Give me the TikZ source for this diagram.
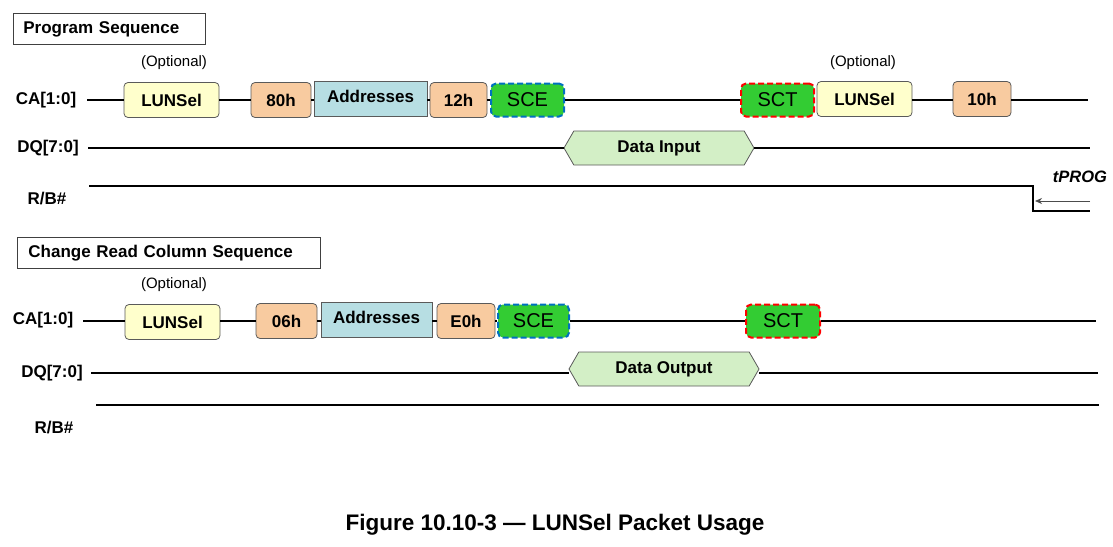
\documentclass[tikz,border=0pt]{standalone}
\usepackage{fontspec}
\setmainfont{Liberation Sans}
\usetikzlibrary{shapes.symbols,arrows.meta}
\definecolor{lunfill}{HTML}{FFFFCC}
\definecolor{cmdfill}{HTML}{F8CBA0}
\definecolor{addrfill}{HTML}{B7DEE3}
\definecolor{scefill}{HTML}{33CC33}
\definecolor{sceblue}{HTML}{0070C0}
\definecolor{sctred}{HTML}{FF0000}
\definecolor{datafill}{HTML}{D3EFC6}
\definecolor{boxline}{HTML}{5A5A5A}
\begin{document}
\begin{tikzpicture}[x=1pt,y=-1pt,
  wire/.style={line width=1.4pt},
  siglabel/.style={font=\bfseries\fontsize{17}{20}\selectfont},
  optlabel/.style={font=\fontsize{15}{17}\selectfont},
  titlebox/.style={draw=black!75, line width=0.8pt, anchor=north west, align=left, minimum height=31pt, inner ysep=0pt, font=\bfseries\fontsize{17}{20}\selectfont},
  box/.style={draw=boxline, line width=0.8pt, rounded corners=4pt, minimum height=35pt, inner sep=0pt, font=\bfseries\fontsize{17}{20}\selectfont},
  lunbox/.style={box, fill=lunfill},
  cmdbox/.style={box, fill=cmdfill},
  addrbox/.style={box, rounded corners=0pt, fill=addrfill},
  seqbox/.style={fill=scefill, line width=2pt, dash pattern=on 6pt off 3pt, rounded corners=5pt, minimum height=33pt, inner sep=0pt, font=\fontsize{20}{22}\selectfont},
  scebox/.style={seqbox, draw=sceblue},
  sctbox/.style={seqbox, draw=sctred},
  databox/.style={signal, signal to=east and west, signal pointer angle=120, draw=boxline, line width=0.8pt, fill=datafill, minimum height=34pt, inner sep=0pt, font=\bfseries\fontsize{17}{20}\selectfont},
]
\useasboundingbox (0,0) rectangle (1113,546);

% ---------- Program Sequence ----------
\node[titlebox, text width=171.5pt, inner xsep=10.5pt] (t1) at (12.5,13) {Program Sequence};

\node[siglabel] (ca1) at (46,100) {CA[1:0]};
\node[siglabel] (dq1) at (48,148) {DQ[7:0]};
\node[siglabel] (rb1) at (47,199) {R/B\#};

\coordinate (ca1s) at (87,100);
\coordinate (ca1e) at (1088,100);
\node[lunbox, minimum width=95pt] (lun1) at (171.5,100) {LUNSel};
\node[cmdbox, minimum width=60pt] (c80) at (281,100) {80h};
\node[addrbox, minimum width=113pt] (addr1) at (370.5,99) {Addresses\rule[-6pt]{0pt}{1pt}};
\node[cmdbox, minimum width=57pt] (c12) at (458.5,100) {12h};
\node[scebox, minimum width=73pt] (sce1) at (527.5,100) {SCE};
\node[sctbox, minimum width=73pt] (sct1) at (777.5,100) {SCT};
\node[lunbox, minimum width=95pt] (lun2) at (864.5,99) {LUNSel};
\node[cmdbox, minimum width=58pt] (c10) at (982,99) {10h};
\node[optlabel] (opt1) at (174,63) {(Optional)};
\node[optlabel] (opt2) at (863,63) {(Optional)};

\draw[wire] (ca1s) -- (lun1.west |- ca1s);
\draw[wire] (lun1.east |- ca1s) -- (c80.west |- ca1s);
\draw[wire] (c80.east |- ca1s) -- (addr1.west |- ca1s);
\draw[wire] (addr1.east |- ca1s) -- (c12.west |- ca1s);
\draw[wire] (c12.east |- ca1s) -- (sce1.west |- ca1s);
\draw[wire] (sce1.east |- ca1s) -- (sct1.west |- ca1s);
\draw[wire] (lun2.east |- ca1s) -- (c10.west |- ca1s);
\draw[wire] (c10.east |- ca1s) -- (ca1e);

\coordinate (dq1s) at (88,148);
\coordinate (dq1e) at (1090,148);
\node[databox, minimum width=190pt] (din) at (659,148) {Data Input};
\draw[wire] (dq1s) -- (din.west);
\draw[wire] (din.east) -- (dq1e);

\coordinate (rb1s) at (89,186);
\coordinate (rb1k) at (1033,186);
\coordinate (rb1l) at (1033,211);
\coordinate (rb1e) at (1090,211);
\draw[wire] (rb1s) -- (rb1k) -- (rb1l) -- (rb1e);
\coordinate (tpa) at (1090,201);
\coordinate (tpb) at (1035,201);
\draw[line width=0.8pt, draw=black!70, -{Stealth[length=7pt,width=6pt]}] (tpa) -- (tpb);
\node[font=\bfseries\itshape\fontsize{16.5}{18}\selectfont] (tprog) at (1080,177) {tPROG};

% ---------- Change Read Column Sequence ----------
\node[titlebox, text width=281pt, inner xsep=11pt] (t2) at (17,237) {Change Read Column Sequence};

\node[siglabel] (ca2) at (43,320) {CA[1:0]};
\node[siglabel] (dq2) at (52,373) {DQ[7:0]};
\node[siglabel] (rb2) at (54,428) {R/B\#};

\coordinate (ca2s) at (83,321);
\coordinate (ca2e) at (1096,321);
\node[lunbox, minimum width=95pt] (lun3) at (172.5,322) {LUNSel};
\node[cmdbox, minimum width=61pt] (c06) at (286.5,321) {06h};
\node[addrbox, minimum width=111pt] (addr2) at (376.5,320) {Addresses\rule[-6pt]{0pt}{1pt}};
\node[cmdbox, minimum width=58pt] (cE0) at (466,321) {E0h};
\node[scebox, minimum width=71pt] (sce2) at (533.5,321) {SCE};
\node[sctbox, minimum width=74pt] (sct2) at (783,321) {SCT};
\node[optlabel] (opt3) at (174,285) {(Optional)};

\draw[wire] (ca2s) -- (lun3.west |- ca2s);
\draw[wire] (lun3.east |- ca2s) -- (c06.west |- ca2s);
\draw[wire] (c06.east |- ca2s) -- (addr2.west |- ca2s);
\draw[wire] (addr2.east |- ca2s) -- (cE0.west |- ca2s);
\draw[wire] (cE0.east |- ca2s) -- (sce2.west |- ca2s);
\draw[wire] (sce2.east |- ca2s) -- (sct2.west |- ca2s);
\draw[wire] (sct2.east |- ca2s) -- (ca2e);

\coordinate (dq2s) at (91,373);
\coordinate (dq2e) at (1098,373);
\node[databox, minimum width=190pt] (dout) at (664,369) {Data Output};
\draw[wire] (dq2s) -- (dout.west |- dq2s);
\draw[wire] (dout.east |- dq2s) -- (dq2e);

\coordinate (rb2s) at (96,405);
\coordinate (rb2e) at (1099,405);
\draw[wire] (rb2s) -- (rb2e);

% ---------- Caption ----------
\node[font=\bfseries\fontsize{22.5}{26}\selectfont] (cap) at (555,525) {Figure 10.10-3 — LUNSel Packet Usage};
\end{tikzpicture}
\end{document}
